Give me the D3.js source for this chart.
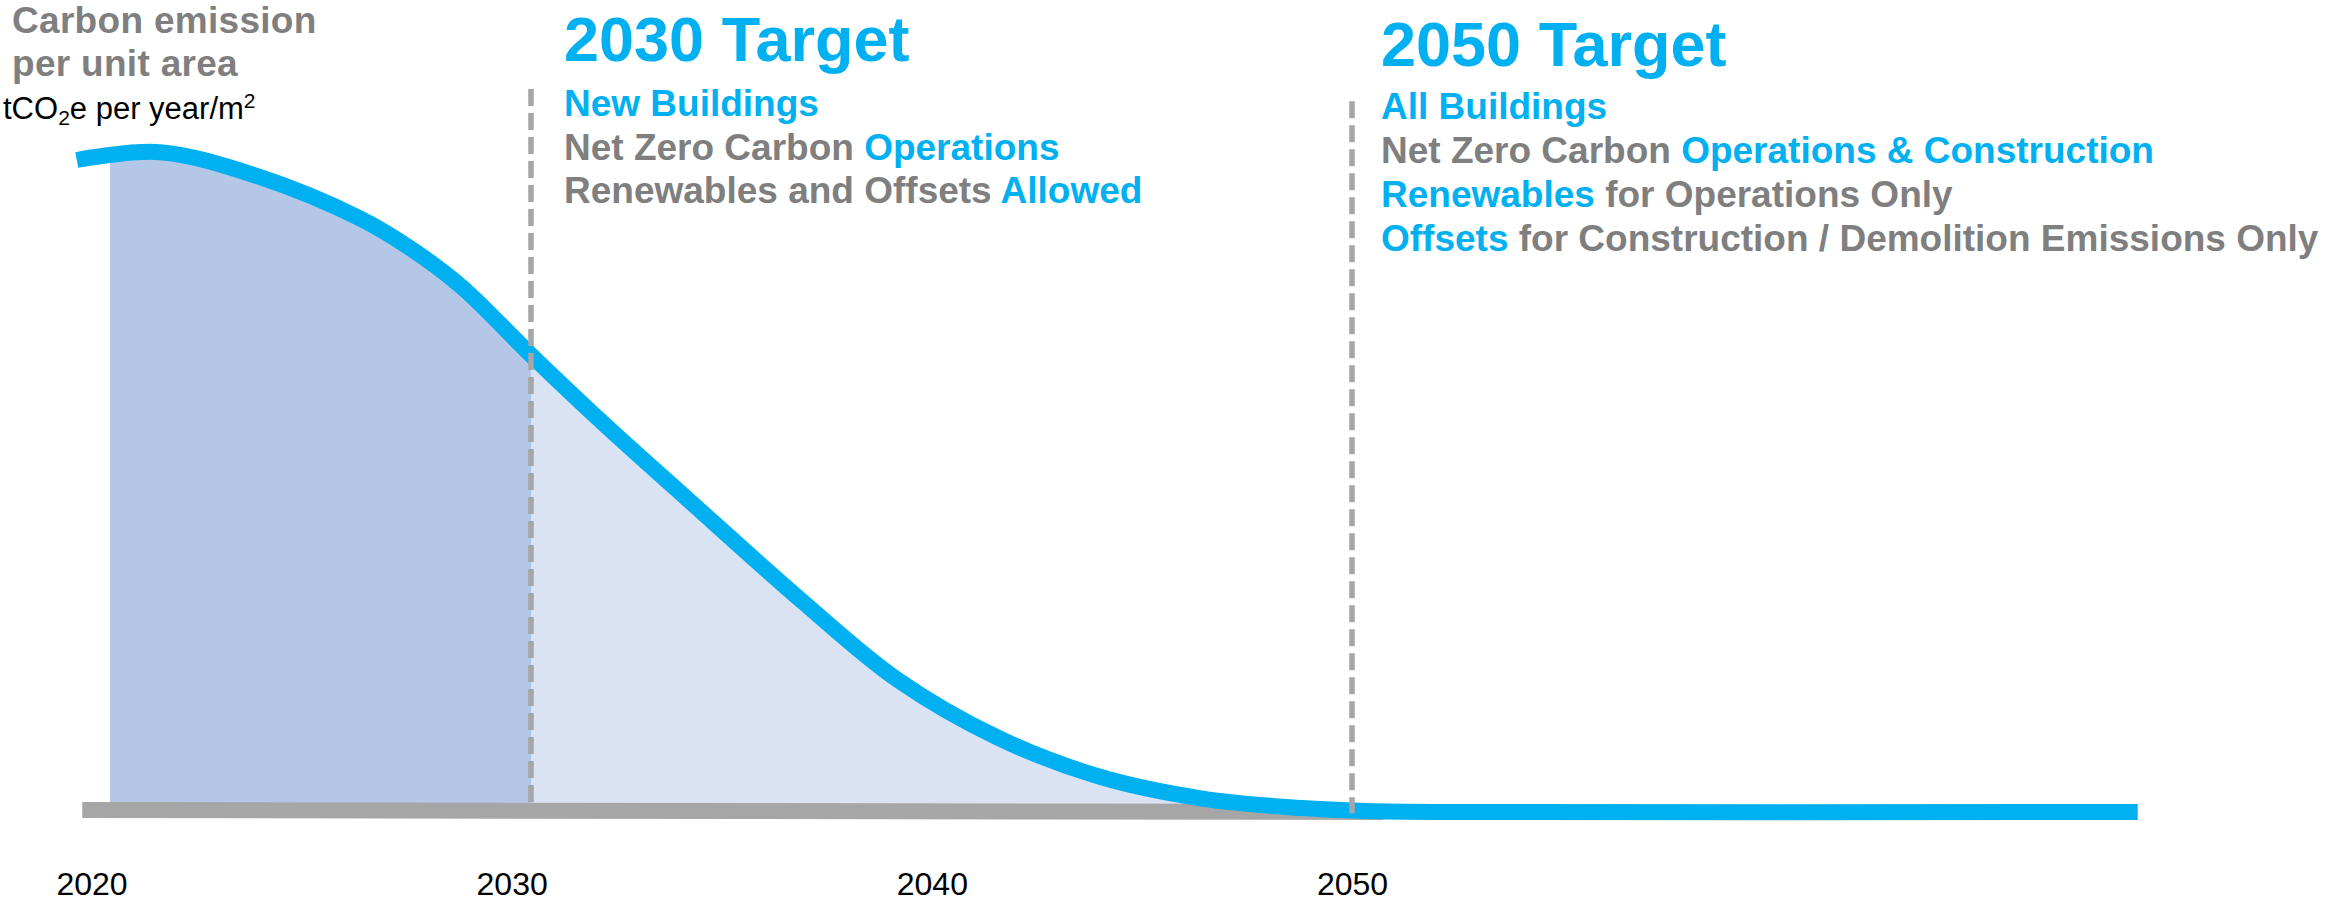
<!DOCTYPE html>
<html>
<head>
<meta charset="utf-8">
<script src="https://cdn.jsdelivr.net/npm/d3@7/dist/d3.min.js"></script>
<style>
  html, body { margin: 0; padding: 0; background: #fff; }
  svg { display: block; }
  text { font-family: "Liberation Sans", Arial, Helvetica, sans-serif; }
</style>
</head>
<body>
<svg id="chart" width="2326" height="906"></svg>
<script>
// ---------------- data ----------------
// emission curve (index, 100 = 2020 level)
const curveYears  = [2019.65, 2021.63, 2024.0, 2026.4, 2027.6, 2028.8, 2030.46, 2032.3, 2034.2, 2036.9, 2039.2, 2041.6, 2044.0, 2046.4, 2048.8, 2050.35, 2052.3, 2068.7];
const curveValues = [100.0,   101.2,   97.4,   91.0,   86.4,   80.6,   70.1,    58.9,   47.9,   32.4,   20.2,   11.3,   5.4,    2.1,    0.6,    0.15,    0,      0];
const tickYears = [2020, 2030, 2040, 2050];
const shadedPeriodDark  = [2020.44, 2030.46];
const shadedPeriodLight = [2030.46, 2050.35];
const axisExtent = [2019.78, 2050.74];
const markerYears  = [2030.46, 2050.0];
const markerTops   = [110.9, 109.0];
const markerBottoms = [1.4, -0.2];

const yTitleLines = ["Carbon emission", "per unit area"];

const target2030Title = "2030 Target";
const target2030Lines = [
  [["New Buildings", true]],
  [["Net Zero Carbon ", false], ["Operations", true]],
  [["Renewables and Offsets ", false], ["Allowed", true]]
];
const target2050Title = "2050 Target";
const target2050Lines = [
  [["All Buildings", true]],
  [["Net Zero Carbon ", false], ["Operations & Construction", true]],
  [["Renewables", true], [" for Operations Only", false]],
  [["Offsets", true], [" for Construction / Demolition Emissions Only", false]]
];

// ---------------- drawing ----------------
const BLUE = "#00B0F0", GRAY_TEXT = "#7F7F7F", GRAY_LINE = "#A6A6A6";
const FILL_DARK = "#B4C7E7", FILL_LIGHT = "#DAE3F3";

const svg = d3.select("#chart");
const x = d3.scaleLinear().domain([2020, 2050]).range([91.5, 1352]);
const y = d3.scaleLinear().domain([0, 100]).range([812, 160]);

const pts = curveYears.map((yr, i) => ({yr, v: curveValues[i]}));
const crv = d3.curveCatmullRom.alpha(0.5);

const area = d3.area().x(d => x(d.yr)).y0(y(0)).y1(d => y(d.v)).curve(crv);
const line = d3.line().x(d => x(d.yr)).y(d => y(d.v)).curve(crv);

const defs = svg.append("defs");
[["clipDark", shadedPeriodDark], ["clipLight", shadedPeriodLight]].forEach(([id, r]) => {
  defs.append("clipPath").attr("id", id).append("rect")
    .attr("x", x(r[0])).attr("y", 0)
    .attr("width", x(r[1]) - x(r[0])).attr("height", y(0));
});

svg.append("path").datum(pts).attr("d", area).attr("fill", FILL_LIGHT).attr("clip-path", "url(#clipLight)");
svg.append("path").datum(pts).attr("d", area).attr("fill", FILL_DARK).attr("clip-path", "url(#clipDark)");

// baseline bar
svg.append("line")
  .attr("x1", x(axisExtent[0])).attr("x2", x(axisExtent[1]))
  .attr("y1", y(0) - 2).attr("y2", y(0))
  .attr("stroke", GRAY_LINE).attr("stroke-width", 16);

// curve
svg.append("path").datum(pts).attr("d", line)
  .attr("fill", "none").attr("stroke", BLUE).attr("stroke-width", 16);

// dashed target markers
markerYears.forEach((yr, i) => {
  svg.append("line")
    .attr("x1", x(yr)).attr("x2", x(yr))
    .attr("y1", y(markerTops[i])).attr("y2", y(markerBottoms[i]))
    .attr("stroke", GRAY_LINE).attr("stroke-width", 5.5)
    .attr("stroke-dasharray", "17,7");
});

// x axis labels
const axis = d3.axisBottom(x).tickValues(tickYears).tickFormat(d3.format("d")).tickSize(0).tickPadding(0);
const gx = svg.append("g").attr("transform", "translate(0,872)").call(axis);
gx.select(".domain").remove();
gx.selectAll("text").attr("font-size", 32).attr("fill", "#000")
  .style("font-family", '"Liberation Sans", Arial, sans-serif');

// y title
yTitleLines.forEach((t, i) => {
  svg.append("text").attr("x", 12).attr("y", 33 + i * 43)
    .attr("font-size", 37).attr("font-weight", "bold").attr("fill", GRAY_TEXT)
    .attr("letter-spacing", 0.3)
    .text(t);
});
const unit = svg.append("text").attr("x", 3).attr("y", 119).attr("font-size", 31).attr("fill", "#000");
unit.append("tspan").text("tCO");
unit.append("tspan").attr("font-size", 21).attr("dy", 6).text("2");
unit.append("tspan").attr("dy", -6).text("e per year/m");
unit.append("tspan").attr("font-size", 21).attr("dy", -11).text("2");

// target blocks
function block(x0, titleBase, title, lines, lineBase, pitch) {
  svg.append("text").attr("x", x0).attr("y", titleBase)
    .attr("font-size", 63).attr("font-weight", "bold").attr("fill", BLUE).text(title);
  lines.forEach((segs, i) => {
    const t = svg.append("text").attr("x", x0).attr("y", lineBase + i * pitch)
      .attr("font-size", 37).attr("font-weight", "bold").attr("xml:space", "preserve");
    segs.forEach(([s, hi]) => t.append("tspan").attr("fill", hi ? BLUE : GRAY_TEXT).text(s));
  });
}
block(564, 61, target2030Title, target2030Lines, 116, 43.5);
block(1381, 66, target2050Title, target2050Lines, 119, 44);
</script>
</body>
</html>
